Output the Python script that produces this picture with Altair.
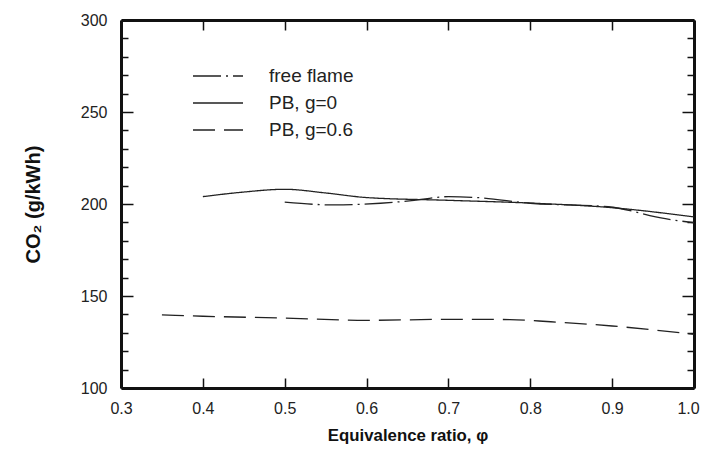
import altair as alt
import pandas as pd

# ---- data ----
series_names = ["free flame", "PB, g=0", "PB, g=0.6"]

ff_phi = [0.50, 0.56, 0.617, 0.655, 0.70, 0.735, 0.80, 0.895, 0.965, 1.00]
ff_co2 = [201.0, 199.5, 200.4, 201.8, 204.0, 203.5, 200.4, 198.5, 192.0, 189.8]

pb0_phi = [0.40, 0.45, 0.50, 0.55, 0.60, 0.70, 0.80, 0.90, 1.00]
pb0_co2 = [204.0, 206.5, 208.0, 206.0, 203.5, 202.0, 200.5, 198.0, 193.0]

pb6_phi = [0.35, 0.40, 0.50, 0.60, 0.70, 0.775, 0.825, 0.90, 1.00]
pb6_co2 = [139.7, 139.0, 138.0, 136.8, 137.3, 137.2, 136.0, 133.7, 129.2]

x_ticks = [0.3, 0.4, 0.5, 0.6, 0.7, 0.8, 0.9, 1.0]
y_ticks = list(range(100, 301, 10))
y_labels = [100, 150, 200, 250, 300]

rows = []
for name, xs, ys in [(series_names[0], ff_phi, ff_co2),
                     (series_names[1], pb0_phi, pb0_co2),
                     (series_names[2], pb6_phi, pb6_co2)]:
    for a, b in zip(xs, ys):
        rows.append({"series": name, "phi": a, "co2": b})
df = pd.DataFrame(rows)

W, H = 573, 368
FONT = "Liberation Sans"
INK = "#111"
x_scale = alt.Scale(domain=[0.3, 1.0], nice=False, zero=False)
y_scale = alt.Scale(domain=[100, 300], nice=False, zero=False)
y_tick_size = {"condition": {"test": "datum.value % 50 === 0", "value": 12}, "value": 7}
x_label_shift = {"condition": {"test": "datum.value >= 0.99", "value": -6}, "value": 0}

base = alt.Chart(df)

lines = base.mark_line(interpolate="monotone", strokeWidth=1.3, color="#222").encode(
    x=alt.X("phi:Q", scale=x_scale,
            axis=alt.Axis(orient="bottom", values=x_ticks, format=".1f", ticks=False,
                          domain=False, grid=False, labelPadding=12, labelFlush=False,
                          labelOffset=x_label_shift,
                          labelFont=FONT, labelFontSize=16, labelColor="#222",
                          title="Equivalence ratio, φ", titleFontWeight="bold",
                          titleFontSize=16.8, titlePadding=11, titleFont=FONT,
                          titleColor=INK)),
    y=alt.Y("co2:Q", scale=y_scale,
            axis=alt.Axis(orient="left", values=y_labels, ticks=False, domain=False,
                          grid=False, labelPadding=14, labelFlush=False,
                          labelFont=FONT, labelFontSize=16, labelColor="#222",
                          title="CO₂ (g/kWh)", titleFontWeight="bold",
                          titleFontSize=20, titlePadding=37, titleFont=FONT,
                          titleColor=INK)),
    strokeDash=alt.StrokeDash(
        "series:N",
        scale=alt.Scale(domain=series_names, range=[[28, 5, 2, 5], [1, 0], [22, 9]]),
        legend=alt.Legend(orient="none", legendX=86, legendY=45, title=None,
                          symbolType="M-2.5,0L2.5,0", symbolSize=400,
                          symbolStrokeColor="#222", symbolStrokeWidth=1.3,
                          labelFont=FONT, labelFontSize=19, labelColor="#222",
                          labelOffset=40, rowPadding=6, padding=0),
    ),
)

# inward ticks + frame: bottom & left edges
ticks_a = base.mark_line(strokeOpacity=0).encode(
    x=alt.X("phi:Q", scale=x_scale,
            axis=alt.Axis(orient="top", offset=-H, values=x_ticks, labels=False,
                          domain=True, domainWidth=3, domainColor=INK,
                          grid=False, tickSize=10, tickWidth=1.5,
                          tickColor=INK, title=None)),
    y=alt.Y("co2:Q", scale=y_scale,
            axis=alt.Axis(orient="right", offset=-W, values=y_ticks, labels=False,
                          domain=True, domainWidth=3, domainColor=INK,
                          grid=False, tickSize=y_tick_size,
                          tickWidth=1.5, tickColor=INK, title=None)),
)

# inward ticks + frame: top & right edges
ticks_b = base.mark_line(strokeOpacity=0).encode(
    x=alt.X("phi:Q", scale=x_scale,
            axis=alt.Axis(orient="bottom", offset=-H, values=x_ticks, labels=False,
                          domain=True, domainWidth=3, domainColor=INK,
                          grid=False, tickSize=10, tickWidth=1.5,
                          tickColor=INK, title=None)),
    y=alt.Y("co2:Q", scale=y_scale,
            axis=alt.Axis(orient="left", offset=-W, values=y_ticks, labels=False,
                          domain=True, domainWidth=3, domainColor=INK,
                          grid=False, tickSize=y_tick_size,
                          tickWidth=1.5, tickColor=INK, title=None)),
)

chart = alt.layer(lines, ticks_a, ticks_b).resolve_axis(
    x="independent", y="independent"
).resolve_scale(x="shared", y="shared").properties(
    width=W, height=H,
    autosize=alt.AutoSizeParams(type="none"),
    padding={"left": 113, "top": 12, "right": 9, "bottom": 57},
).configure_view(
    stroke=None
).configure(background="white")

chart.save("out.html", embed_options={"renderer": "svg", "actions": False})
